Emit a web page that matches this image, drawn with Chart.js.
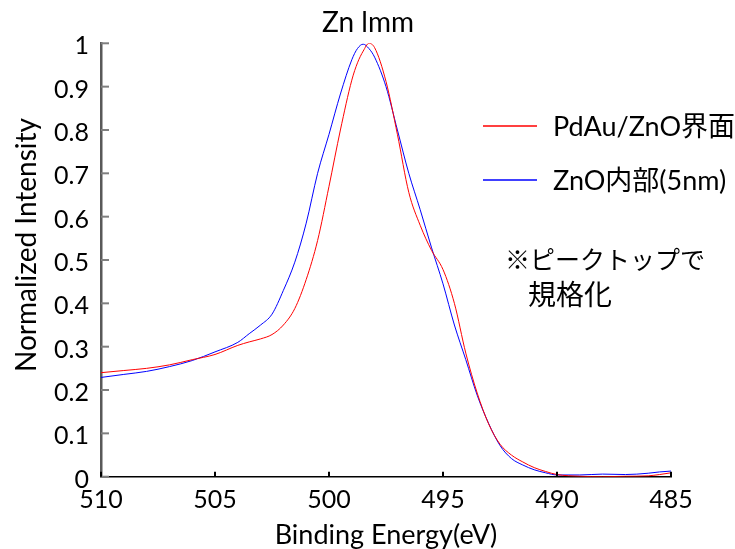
<!DOCTYPE html>
<html>
<head>
<meta charset="utf-8">
<script src="https://cdn.jsdelivr.net/npm/chart.js@4.4.1/dist/chart.umd.min.js"></script>
<style>
  body { margin: 0; background: #fff; }
  #wrap { width: 735px; height: 549px; }
</style>
</head>
<body>
<div id="wrap"><canvas id="chart" width="735" height="549"></canvas></div>
<script>
// binding energy (eV), shared by both spectra
const energies = [510, 509, 508, 507, 506, 505, 504, 503.5, 503, 502.5, 502, 501.5, 501, 500.5, 500,
  499.5, 499, 498.75, 498.5, 498.25, 498, 497.5, 497, 496.5, 496, 495.5, 495, 494.5, 494,
  493.5, 493, 492.5, 492, 491.5, 491, 490.5, 490, 489, 488, 487, 486, 485.5, 485];

const pdauZno = [0.240, 0.245, 0.250, 0.258, 0.270, 0.282, 0.303, 0.311, 0.318, 0.328, 0.350, 0.388, 0.455, 0.545, 0.670,
  0.800, 0.915, 0.955, 0.982, 1.000, 0.990, 0.912, 0.790, 0.656, 0.580, 0.522, 0.478, 0.400, 0.285,
  0.193, 0.122, 0.075, 0.050, 0.034, 0.021, 0.012, 0.005, 0.001, 0.000, 0.001, 0.002, 0.005, 0.009];

const znoBulk = [0.229, 0.236, 0.243, 0.254, 0.268, 0.288, 0.310, 0.330, 0.350, 0.375, 0.430, 0.495, 0.585, 0.700, 0.790,
  0.883, 0.962, 0.988, 0.998, 0.988, 0.968, 0.900, 0.800, 0.700, 0.616, 0.528, 0.445, 0.350, 0.270,
  0.188, 0.123, 0.072, 0.042, 0.027, 0.016, 0.009, 0.004, 0.004, 0.006, 0.005, 0.008, 0.011, 0.013];

const seriesNames = ['PdAu/ZnO界面', 'ZnO内部(5nm)'];
const seriesColors = ['#ff0000', '#0000ff'];
const xTicks = [510, 505, 500, 495, 490, 485];
const yTicks = [0, 0.1, 0.2, 0.3, 0.4, 0.5, 0.6, 0.7, 0.8, 0.9, 1];
const yTickLabels = ['0', '0.1', '0.2', '0.3', '0.4', '0.5', '0.6', '0.7', '0.8', '0.9', '1'];
const noteLines = ['※ピークトップで', '規格化'];
const chartTitle = 'Zn lmm';

const FONT = "Lato, 'Noto Sans CJK JP', sans-serif";
Chart.defaults.font.family = FONT;
Chart.defaults.color = '#000';

const toPoints = ys => energies.map((e, i) => ({ x: e, y: ys[i] }));

// inward tick marks, title, legend, note and y title
const decorations = {
  id: 'decorations',
  afterDraw(chart) {
    const { ctx, chartArea, scales: { x, y } } = chart;
    ctx.save();

    ctx.lineWidth = 2;
    ctx.strokeStyle = '#7f7f7f';
    yTicks.forEach(v => {
      const py = y.getPixelForValue(v);
      ctx.beginPath();
      ctx.moveTo(chartArea.left, py);
      ctx.lineTo(chartArea.left + 8, py);
      ctx.stroke();
    });
    ctx.strokeStyle = '#000';
    xTicks.forEach(v => {
      const px = x.getPixelForValue(v);
      ctx.beginPath();
      ctx.moveTo(px, chartArea.bottom);
      ctx.lineTo(px, chartArea.bottom - 5);
      ctx.stroke();
    });

    ctx.fillStyle = '#000';
    ctx.textBaseline = 'middle';

    // title
    ctx.font = `28px ${FONT}`;
    ctx.textAlign = 'center';
    ctx.fillText(chartTitle, 368, 23);

    // legend
    ctx.font = `27px ${FONT}`;
    ctx.textAlign = 'left';
    seriesNames.forEach((name, i) => {
      const ly = 126 + i * 54;
      ctx.strokeStyle = seriesColors[i];
      ctx.lineWidth = 1.5;
      ctx.beginPath();
      ctx.moveTo(483, ly);
      ctx.lineTo(537, ly);
      ctx.stroke();
      ctx.fillText(name, 553, ly + 1);
    });

    // note
    ctx.font = `25px ${FONT}`;
    ctx.fillText(noteLines[0], 505, 261);
    ctx.font = `28px ${FONT}`;
    ctx.fillText(noteLines[1], 528, 296);

    // y axis title
    ctx.font = `28px ${FONT}`;
    ctx.textAlign = 'center';
    ctx.translate(27, 245);
    ctx.rotate(-Math.PI / 2);
    ctx.fillText('Normalized Intensity', 0, 0);

    ctx.restore();
  }
};

new Chart(document.getElementById('chart'), {
  type: 'line',
  data: {
    datasets: [
      { label: seriesNames[0], data: toPoints(pdauZno), borderColor: seriesColors[0], borderWidth: 1,
        pointRadius: 0, cubicInterpolationMode: 'monotone' },
      { label: seriesNames[1], data: toPoints(znoBulk), borderColor: seriesColors[1], borderWidth: 1,
        pointRadius: 0, cubicInterpolationMode: 'monotone' }
    ]
  },
  options: {
    responsive: false,
    animation: false,
    devicePixelRatio: 1,
    layout: { padding: { left: 0, right: 64, top: 43.3, bottom: 0 } },
    plugins: {
      legend: { display: false },
      tooltip: { enabled: false },
      title: { display: false }
    },
    scales: {
      x: {
        type: 'linear',
        min: 485,
        max: 510,
        reverse: true,
        afterBuildTicks: s => { s.ticks = xTicks.map(v => ({ value: v })); },
        afterFit: s => { s.height = 72.3; },
        ticks: { font: { size: 25 }, padding: 8, maxRotation: 0, color: '#000' },
        grid: { display: false, drawTicks: false },
        border: { display: true, color: '#000', width: 1.5 },
        title: {
          display: true,
          text: 'Binding Energy(eV)',
          color: '#000',
          font: { size: 27, lineHeight: 1 },
          padding: { top: 0, bottom: 0 }
        }
      },
      y: {
        min: 0,
        max: 1,
        afterBuildTicks: s => { s.ticks = yTicks.map(v => ({ value: v })); },
        afterFit: s => { s.width = 101; },
        ticks: {
          font: { size: 25 },
          padding: 12,
          labelOffset: 3,
          color: '#000',
          callback: (v, i) => yTickLabels[i]
        },
        grid: { display: false, drawTicks: false },
        border: { display: true, color: '#595959', width: 2.5 }
      }
    }
  },
  plugins: [decorations]
});
</script>
</body>
</html>
